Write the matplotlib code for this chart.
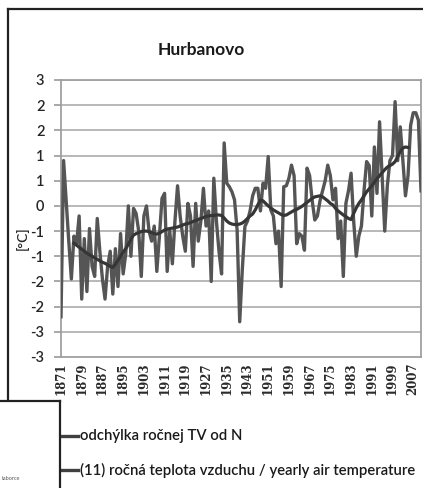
import numpy as np
import matplotlib
matplotlib.use("Agg")
import matplotlib.pyplot as plt
from matplotlib.lines import Line2D

# yearly deviation of air temperature, Hurbanovo 1871-2010 [°C]
years = list(range(1871, 2011))
deviation = [
    -2.2, 0.9, 0.1, -0.7, -1.45, -0.6, -0.75, -0.2, -1.85, -0.65,    # 1871-1880
    -1.7, -0.45, -1.2, -1.4, -0.25, -0.9, -1.45, -1.85, -1.2, -0.9,    # 1881-1890
    -1.75, -0.85, -1.6, -0.55, -1.35, -0.95, 0.0, -1.0, -0.05, -0.15,  # 1891-1900
    -0.5, -1.4, -0.2, 0.0, -0.5, -0.7, -0.4, -1.3, -0.6, 0.15,         # 1901-1910
    0.25, -1.3, -0.5, -1.15, -0.3, 0.4, -0.2, -0.6, -0.9, 0.05,        # 1911-1920
    -0.2, -1.2, 0.05, -0.7, -0.3, 0.35, -0.4, -0.1, -1.5, 0.55,        # 1921-1930
    -0.3, -0.9, -1.35, 1.25, 0.45, 0.38, 0.28, 0.12, -0.48, -2.3,      # 1931-1940
    -1.27, -0.41, -0.3, -0.1, 0.2, 0.35, 0.35, -0.1, 0.45, 0.35,       # 1941-1950
    0.98, -0.08, -0.2, -0.75, -0.5, -1.6, 0.38, 0.4, 0.55, 0.81,       # 1951-1960
    0.6, -0.75, -0.55, -0.6, -0.88, 0.75, 0.6, 0.1, -0.28, -0.2,       # 1961-1970
    0.1, 0.3, 0.5, 0.81, 0.6, 0.12, 0.35, -0.65, -0.3, -1.4,           # 1971-1980
    0.05, 0.3, 0.65, -0.3, -1.0, -0.6, -0.4, 0.3, 0.88, 0.8,           # 1981-1990
    -0.2, 1.17, 0.25, 1.67, 0.6, -0.5, 0.4, 0.9, 1.0, 2.07,            # 1991-2000
    0.9, 1.57, 0.9, 0.2, 0.6, 1.6, 1.85, 1.85, 1.7, 0.3,               # 2001-2010
]

# 11-year moving average (1876-2005)
ma_years = list(range(1876, 2006))
moving_avg = [
    -0.74, -0.78, -0.82, -0.86, -0.9, -0.94, -0.97, -1.0, -1.03, -1.06,
    -1.09, -1.12, -1.14, -1.17, -1.2, -1.22, -1.16, -1.08, -1.0, -0.92,
    -0.85, -0.76, -0.66, -0.58, -0.55, -0.53, -0.51, -0.5, -0.5, -0.51,
    -0.53, -0.55, -0.56, -0.54, -0.51, -0.48, -0.46, -0.45, -0.44, -0.43,
    -0.42, -0.4, -0.38, -0.36, -0.35, -0.33, -0.31, -0.29, -0.27, -0.25,
    -0.23, -0.21, -0.2, -0.19, -0.19, -0.18, -0.18, -0.19, -0.24, -0.3,
    -0.34, -0.36, -0.37, -0.37, -0.36, -0.34, -0.3, -0.25, -0.2, -0.16,
    -0.08, 0.02, 0.12, 0.1, 0.05, 0.0, -0.04, -0.08, -0.11, -0.14,
    -0.17, -0.19, -0.18, -0.15, -0.12, -0.09, -0.07, -0.04, -0.01, 0.03,
    0.07, 0.11, 0.15, 0.18, 0.19, 0.2, 0.18, 0.14, 0.1, 0.05,
    0.02, -0.05, -0.1, -0.14, -0.18, -0.21, -0.25, -0.27, -0.15, -0.04,
    0.05, 0.12, 0.2, 0.28, 0.34, 0.4, 0.47, 0.54, 0.6, 0.66,
    0.72, 0.77, 0.8, 0.83, 0.88, 0.98, 1.08, 1.15, 1.17, 1.16,
]

y_ticks = [-3, -2.5, -2, -1.5, -1, -0.5, 0, 0.5, 1, 1.5, 2, 2.5]
y_ticklabels = ["-3", "-3", "-2", "-2", "-1", "-1", "0", "1", "1", "2", "2", "3"]
x_ticks = list(range(1871, 2011, 8))

title = "Hurbanovo"
label_dev = "odchýlka ročnej TV od N"
label_ma = "(11) ročná teplota vzduchu / yearly air temperature"

assert len(deviation) == len(years)
assert len(moving_avg) == len(ma_years)

W, H = 423, 488
plt.rcParams['font.family'] = ['Lato', 'DejaVu Sans']

fig = plt.figure(figsize=(W / 100, H / 100), dpi=100)
fig.patch.set_facecolor('white')


def fx(px):
    return px / W


def fy(py):
    return 1 - py / H


ax = fig.add_axes([fx(61), fy(357), fx(360), 277 / H])

grid_c = '#b8b8b8'
for v in y_ticks[1:]:
    ax.axhline(v, color=grid_c, lw=1.4, zorder=1)

ax.plot(years, deviation, color='#555555', lw=2.4, solid_joinstyle='round', zorder=3)
ax.plot(ma_years, moving_avg, color='#363636', lw=2.3, solid_joinstyle='round', zorder=4)

ax.set_xlim(1871, 2010)
ax.set_ylim(-3, 2.5)
ax.set_yticks(y_ticks)
ax.set_yticklabels(y_ticklabels, fontsize=10.5, color='#262626', fontweight='semibold')
ax.set_xticks(x_ticks)
ax.set_xticklabels([str(y) for y in x_ticks], rotation=90, fontsize=8.5,
                   family='DejaVu Serif', fontweight='bold', color='#2a2a2a')
ax.tick_params(axis='y', length=5, width=1.2, color='#999999', pad=7)
ax.tick_params(axis='x', length=0, pad=4)
for s in ax.spines.values():
    s.set_color('#a0a0a0')
    s.set_linewidth(1.3)

fig.text(fx(201), fy(50), title, ha='center', va='center',
         fontsize=12.5, fontweight='bold', color='#1a1a1a')
fig.text(fx(22), fy(238), "[°C]", rotation=90, ha='center', va='center',
         fontsize=10, color='#262626', fontweight='semibold')

# legend at the bottom of the chart
for yy, lab in [(436, label_dev), (470, label_ma)]:
    fig.add_artist(Line2D([fx(62), fx(78)], [fy(yy), fy(yy)], color='#404040', lw=2.4))
    fig.text(fx(80), fy(yy), lab, ha='left', va='center', fontsize=10.7,
             color='#1a1a1a', fontweight='semibold')

# chart frame and the overlapping neighbouring frame
frame_c = '#222222'
fig.add_artist(Line2D([fx(8), fx(W)], [fy(9), fy(9)], color=frame_c, lw=1.6))
fig.add_artist(Line2D([fx(8), fx(8)], [fy(9), fy(400)], color=frame_c, lw=1.6))
fig.add_artist(Line2D([fx(0), fx(60)], [fy(401), fy(401)], color=frame_c, lw=1.6))
fig.add_artist(Line2D([fx(60), fx(60)], [fy(401), fy(H)], color=frame_c, lw=1.6))
fig.text(fx(2), fy(479), "taborce", ha='left', va='center', fontsize=4, color='#555555')

fig.savefig("out.png", dpi=100)
